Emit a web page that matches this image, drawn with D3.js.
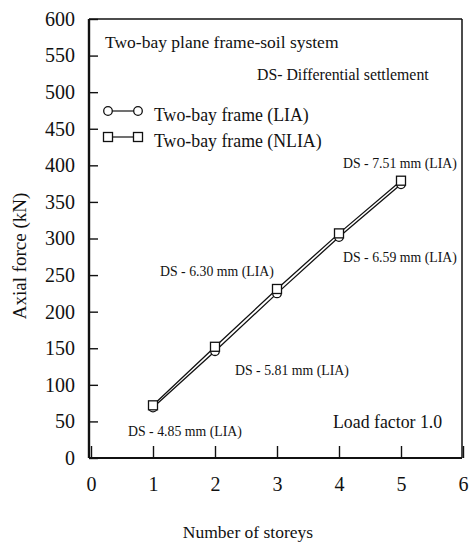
<!DOCTYPE html>
<html><head><meta charset="utf-8">
<script src="https://cdn.jsdelivr.net/npm/d3@7"></script>
<style>body{margin:0;background:#fff}svg{display:block}svg text{font-family:"Liberation Serif","Times New Roman",serif !important;fill:#111}</style>
</head><body>
<svg id="c" width="471" height="544"></svg>
<script>
const storeys = [1, 2, 3, 4, 5];
const liaForce = [69, 146, 225, 302, 374];
const nliaForce = [72, 152, 231, 307, 379];
const xTicks = [0, 1, 2, 3, 4, 5, 6];
const yTicks = [0, 50, 100, 150, 200, 250, 300, 350, 400, 450, 500, 550, 600];
const dsLabels = ["DS - 4.85 mm (LIA)", "DS - 5.81 mm (LIA)", "DS - 6.30 mm (LIA)", "DS - 6.59 mm (LIA)", "DS - 7.51 mm (LIA)"];
const seriesNames = ["Two-bay frame (LIA)", "Two-bay frame (NLIA)"];

const SERIF = '"Liberation Serif", "Times New Roman", serif';
const svg = d3.select("#c");
const L = 89, R = 462, T = 19, B = 458;
const x = d3.scaleLinear().domain([0, 6]).range([91, 463]);
const y = d3.scaleLinear().domain([0, 600]).range([B, T]);

// axes
const yAx = svg.append("g").attr("transform", `translate(${L},0)`)
  .call(d3.axisLeft(y).tickValues(yTicks).tickSize(-9).tickPadding(14).tickFormat(d3.format("d")));
yAx.attr("font-family", SERIF);
yAx.select(".domain").remove();
yAx.selectAll("line").attr("stroke", "#111").attr("stroke-width", 1.4);
yAx.selectAll("text").attr("font-size", 20).style("font-family", SERIF).attr("fill", "#111");

const xAx = svg.append("g").attr("transform", `translate(0,${B})`)
  .call(d3.axisBottom(x).tickValues(xTicks).tickSize(-12).tickPadding(19).tickFormat(d3.format("d")));
xAx.attr("font-family", SERIF);
xAx.select(".domain").remove();
xAx.selectAll("line").attr("stroke", "#111").attr("stroke-width", 1.4);
xAx.selectAll("text").attr("font-size", 20).style("font-family", SERIF).attr("fill", "#111");

// frame
svg.append("line").attr("x1", L).attr("x2", L).attr("y1", T).attr("y2", B).attr("stroke", "#111").attr("stroke-width", 2.4);
svg.append("line").attr("x1", L).attr("x2", R).attr("y1", B).attr("y2", B).attr("stroke", "#111").attr("stroke-width", 2);
svg.append("line").attr("x1", L).attr("x2", R).attr("y1", T).attr("y2", T).attr("stroke", "#111").attr("stroke-width", 1.5);
svg.append("line").attr("x1", R).attr("x2", R).attr("y1", T).attr("y2", B).attr("stroke", "#111").attr("stroke-width", 1.5);

// axis titles
svg.append("text").attr("transform", `translate(26,256) rotate(-90)`).attr("text-anchor", "middle")
  .attr("font-size", 19).style("font-family", SERIF).text("Axial force (kN)");
svg.append("text").attr("x", 248).attr("y", 538).attr("text-anchor", "middle")
  .attr("font-size", 17.5).style("font-family", SERIF).text("Number of storeys");

// series
const line = d3.line();
const liaPts = storeys.map((s, i) => [x(s), y(liaForce[i])]);
const nliaPts = storeys.map((s, i) => [x(s), y(nliaForce[i])]);
svg.append("path").attr("d", line(liaPts)).attr("fill", "none").attr("stroke", "#111").attr("stroke-width", 1.3);
svg.append("path").attr("d", line(nliaPts)).attr("fill", "none").attr("stroke", "#111").attr("stroke-width", 1.3);
svg.selectAll("circle.lia").data(liaPts).join("circle").attr("class", "lia")
  .attr("cx", d => d[0]).attr("cy", d => d[1]).attr("r", 4.3)
  .attr("fill", "#fff").attr("stroke", "#111").attr("stroke-width", 1.3);
svg.selectAll("rect.nlia").data(nliaPts).join("rect").attr("class", "nlia")
  .attr("x", d => d[0] - 4.5).attr("y", d => d[1] - 4.5).attr("width", 9).attr("height", 9)
  .attr("fill", "#fff").attr("stroke", "#111").attr("stroke-width", 1.3);

// annotations
svg.append("text").attr("x", 105).attr("y", 48).attr("font-size", 17.5).style("font-family", SERIF).text("Two-bay plane frame-soil system");
svg.append("text").attr("x", 257).attr("y", 80).attr("font-size", 15.8).style("font-family", SERIF).text("DS- Differential settlement");
svg.append("text").attr("x", 333).attr("y", 428).attr("font-size", 17.8).style("font-family", SERIF).text("Load factor 1.0");

const dsPos = [[128, 436], [235, 375], [160, 276], [343, 262], [343, 168]];
svg.selectAll("text.ds").data(dsLabels).join("text").attr("class", "ds")
  .attr("x", (d, i) => dsPos[i][0]).attr("y", (d, i) => dsPos[i][1])
  .attr("font-size", 13.8).style("font-family", SERIF).text(d => d);

// legend
const lg = svg.append("g");
const lx1 = 108, lx2 = 138;
lg.append("line").attr("x1", lx1).attr("x2", lx2).attr("y1", 111).attr("y2", 111).attr("stroke", "#111").attr("stroke-width", 1.2);
[lx1, lx2].forEach(cx => lg.append("circle").attr("cx", cx).attr("cy", 111).attr("r", 4.3)
  .attr("fill", "#fff").attr("stroke", "#111").attr("stroke-width", 1.3));
lg.append("line").attr("x1", lx1).attr("x2", lx2).attr("y1", 137).attr("y2", 137).attr("stroke", "#111").attr("stroke-width", 1.2);
[lx1, lx2].forEach(cx => lg.append("rect").attr("x", cx - 4.5).attr("y", 132.5).attr("width", 9).attr("height", 9)
  .attr("fill", "#fff").attr("stroke", "#111").attr("stroke-width", 1.3));
lg.append("text").attr("x", 154).attr("y", 121).attr("font-size", 17.8).style("font-family", SERIF).text(seriesNames[0]);
lg.append("text").attr("x", 154).attr("y", 147).attr("font-size", 17.8).style("font-family", SERIF).text(seriesNames[1]);
</script>
</body></html>
